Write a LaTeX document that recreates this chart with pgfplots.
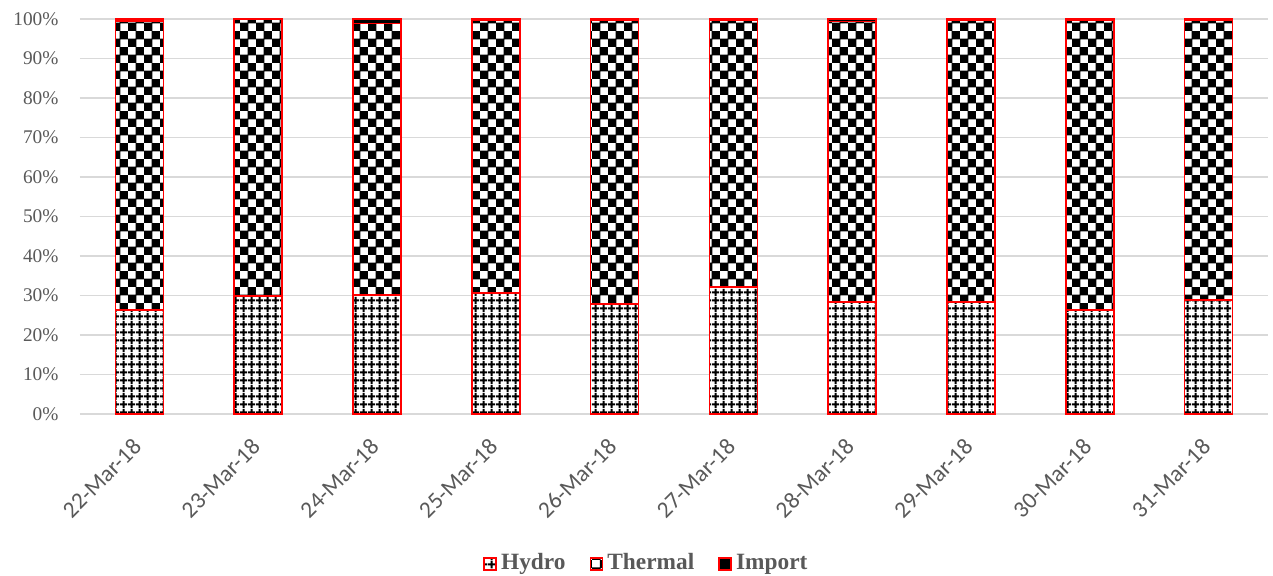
\documentclass[border=0pt]{standalone}
\usepackage{fontspec}
\setmainfont{Liberation Serif}
\newfontfamily\calib{Carlito}
\usepackage{pgfplots}
\pgfplotsset{compat=1.18}
\usetikzlibrary{patterns}

\definecolor{txtgray}{RGB}{89,89,89}
\definecolor{gridgray}{RGB}{217,217,217}

% Excel-like fills
\pgfdeclarepatternformonly{hydrogrid}{\pgfpointorigin}{\pgfqpoint{6pt}{6pt}}{\pgfqpoint{6pt}{6pt}}{%
  \pgfpathrectangle{\pgfqpoint{0pt}{2.2pt}}{\pgfqpoint{6pt}{1.6pt}}%
  \pgfpathrectangle{\pgfqpoint{2.2pt}{0pt}}{\pgfqpoint{1.6pt}{6pt}}%
  \pgfusepath{fill}}
\pgfdeclarepatternformonly{thermalcheck}{\pgfpointorigin}{\pgfqpoint{12pt}{12pt}}{\pgfqpoint{12pt}{12pt}}{%
  \pgfpathrectangle{\pgfqpoint{0pt}{0pt}}{\pgfqpoint{6.6pt}{6.6pt}}%
  \pgfpathrectangle{\pgfqpoint{6pt}{6pt}}{\pgfqpoint{6.6pt}{6.6pt}}%
  \pgfusepath{fill}}

\pgfplotstableread{
x hydro thermal import
0 26.3 73.2 0.5
1 29.9 70.0 0.1
2 30.1 68.7 1.2
3 30.6 69.2 0.2
4 27.8 71.8 0.4
5 32.2 67.6 0.2
6 28.4 71.0 0.6
7 28.4 71.3 0.3
8 26.3 73.3 0.4
9 28.9 70.8 0.3
}\mixdata

\begin{document}
\begin{tikzpicture}
\begin{axis}[
    at={(0,0)}, anchor=south west,
    scale only axis,
    width=891pt, height=296.25pt,
    ybar stacked,
    bar width=36pt,
    xmin=-0.5, xmax=9.5,
    ymin=0, ymax=100,
    xtick=data,
    xticklabels={22-Mar-18,23-Mar-18,24-Mar-18,25-Mar-18,26-Mar-18,27-Mar-18,28-Mar-18,29-Mar-18,30-Mar-18,31-Mar-18},
    major x tick style={draw=none},
    extra x ticks={-0.5,0.5,...,9.5},
    extra x tick labels={},
    extra x tick style={major tick length=6pt, tick align=outside, tick style={draw=gridgray, line width=0.8pt}, grid=none},
    xtick pos=bottom,
    ytick={0,10,...,100},
    yticklabel={\pgfmathprintnumber{\tick}\%},
    /pgf/number format/assume math mode=true,
    ytick style={draw=none},
    ymajorgrids,
    grid style={draw=gridgray, line width=0.8pt},
    axis x line*=bottom,
    axis y line=left,
    y axis line style={draw=none},
    x axis line style={draw=gridgray, line width=0.8pt},
    axis line style={-},
    yticklabel style={font=\fontsize{14.5}{16}\selectfont, text=txtgray, xshift=-10.5pt},
    xticklabel style={font=\calib\fontsize{17.5}{19}\selectfont, text=txtgray, inner sep=0pt, xshift=-6pt, yshift=-17pt, rotate=45, anchor=north east},
    legend style={at={(0.477,-0.38)}, anchor=center, draw=none, legend columns=-1,
      font=\fontsize{17.5}{19}\selectfont\bfseries, text=txtgray, inner sep=0pt,
      nodes={text height=12pt, text depth=4pt, anchor=west},
      /tikz/every odd column/.append style={column sep=1pt},
      /tikz/every even column/.append style={column sep=16pt}},
    legend image code/.code={\draw[#1, line width=1.4pt] (0pt,-4.5pt) rectangle (9pt,4.5pt);},
    every axis plot/.append style={draw=red, line width=1.1pt},
]
\addplot[fill=white, postaction={pattern=hydrogrid}] table[x=x, y=hydro] {\mixdata};
\addplot[fill=white, postaction={pattern=thermalcheck}] table[x=x, y=thermal] {\mixdata};
\addplot[fill=black] table[x=x, y=import] {\mixdata};
\legend{Hydro, Thermal, Import}
\end{axis}
\pgfresetboundingbox
\useasboundingbox (-60pt,-120.75pt) rectangle (894.75pt,310.5pt);
\end{tikzpicture}
\end{document}
